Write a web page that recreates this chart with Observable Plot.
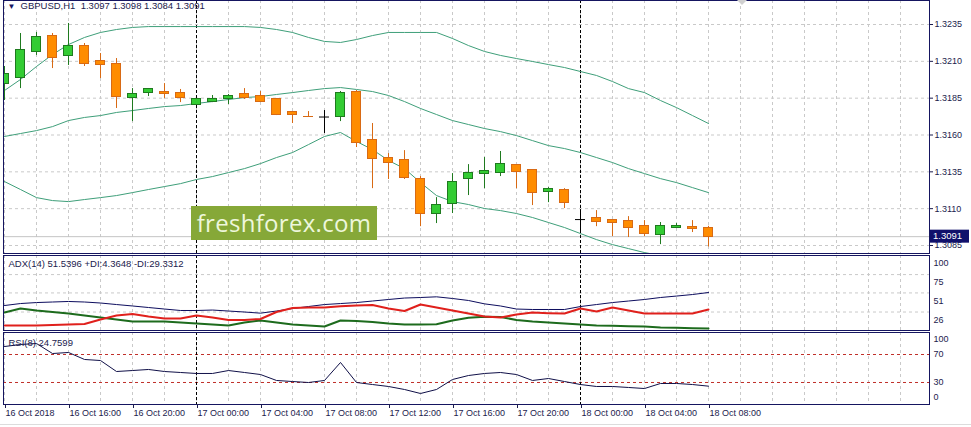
<!DOCTYPE html>
<html><head><meta charset="utf-8">
<script src="https://cdn.jsdelivr.net/npm/d3@7"></script>
<script src="https://cdn.jsdelivr.net/npm/@observablehq/plot@0.6"></script>
<style>
html,body{margin:0;padding:0;background:#fff;}
#chart{position:relative;width:971px;height:427px;overflow:hidden;background:#fff;font-family:"Liberation Sans",Arial,sans-serif;}
#chart svg{position:absolute;left:0;display:block;overflow:hidden;}
#wm{position:absolute;left:191px;top:206px;width:186px;height:34px;background:#86a838;color:#eef7dc;font-family:"Open Sans",sans-serif;font-size:24px;line-height:33px;text-align:center;letter-spacing:0.3px;}
#shift{position:absolute;left:737px;top:0;width:0;height:0;border-left:5px solid transparent;border-right:5px solid transparent;border-top:5px solid #cfcfcf;}
#bottomline{position:absolute;left:0;top:424px;width:971px;height:1px;background:#dcdcdc;}
</style></head>
<body><div id="chart"></div>
<script>
// ---------- data ----------
const symbol = "GBPUSD,H1";
const open  = [1.31949,1.31990,1.32160,1.32269,1.32133,1.32201,1.32099,1.32085,1.31854,1.31888,1.31895,1.31888,1.31807,1.31827,1.31841,1.31875,1.31868,1.31841,1.31759,1.31725,1.31722,1.31719,1.31895,1.31569,1.31447,1.31427,1.31304,1.31067,1.31135,1.31298,1.31338,1.31345,1.31399,1.31365,1.31216,1.31230,1.31026,1.31040,1.31026,1.31019,1.30985,1.30924,1.30972,1.30978,1.30970];
const high  = [1.32065,1.32289,1.32296,1.32289,1.32357,1.32221,1.32153,1.32119,1.31915,1.31915,1.31949,1.31909,1.31848,1.31868,1.31875,1.31915,1.31895,1.31841,1.31759,1.31759,1.31766,1.31895,1.31902,1.31678,1.31474,1.31494,1.31318,1.31175,1.31338,1.31399,1.31447,1.31488,1.31399,1.31365,1.31243,1.31236,1.31094,1.31087,1.31026,1.31046,1.31019,1.31006,1.30999,1.31019,1.30980];
const low   = [1.31834,1.31915,1.32140,1.32051,1.32072,1.32065,1.31983,1.31780,1.31691,1.31861,1.31848,1.31820,1.31800,1.31820,1.31807,1.31841,1.31820,1.31732,1.31678,1.31719,1.31610,1.31691,1.31515,1.31236,1.31298,1.31298,1.30978,1.30999,1.31067,1.31189,1.31236,1.31318,1.31236,1.31121,1.31141,1.31101,1.30931,1.30978,1.30911,1.30904,1.30911,1.30856,1.30965,1.30938,1.30840];
const close = [1.32011,1.32180,1.32262,1.32126,1.32207,1.32085,1.32078,1.31861,1.31875,1.31909,1.31875,1.31848,1.31841,1.31841,1.31868,1.31854,1.31827,1.31739,1.31739,1.31719,1.31722,1.31888,1.31549,1.31440,1.31413,1.31311,1.31067,1.31128,1.31284,1.31345,1.31359,1.31406,1.31352,1.31209,1.31236,1.31141,1.31026,1.31012,1.31006,1.30972,1.30931,1.30985,1.30985,1.30965,1.30910];

const bbUpper  = [1.31902,1.31977,1.32065,1.32146,1.32214,1.32262,1.32296,1.32316,1.32330,1.32336,1.32336,1.32336,1.32336,1.32336,1.32336,1.32336,1.32330,1.32316,1.32296,1.32262,1.32235,1.32228,1.32248,1.32275,1.32296,1.32296,1.32296,1.32296,1.32255,1.32207,1.32167,1.32140,1.32119,1.32099,1.32078,1.32058,1.32031,1.32004,1.31963,1.31915,1.31888,1.31834,1.31786,1.31732,1.31678];
const bbMiddle = [1.31590,1.31610,1.31630,1.31657,1.31698,1.31719,1.31732,1.31753,1.31766,1.31780,1.31793,1.31800,1.31814,1.31827,1.31841,1.31854,1.31861,1.31875,1.31888,1.31902,1.31915,1.31922,1.31909,1.31895,1.31868,1.31827,1.31780,1.31739,1.31698,1.31671,1.31644,1.31623,1.31596,1.31562,1.31528,1.31508,1.31481,1.31447,1.31413,1.31372,1.31338,1.31304,1.31277,1.31243,1.31209];
const bbLower  = [1.31284,1.31230,1.31175,1.31155,1.31148,1.31162,1.31175,1.31189,1.31209,1.31230,1.31250,1.31270,1.31298,1.31318,1.31345,1.31372,1.31406,1.31447,1.31481,1.31535,1.31590,1.31617,1.31556,1.31501,1.31427,1.31372,1.31277,1.31189,1.31148,1.31128,1.31101,1.31087,1.31067,1.31040,1.31006,1.30972,1.30931,1.30890,1.30856,1.30829,1.30802,1.30782,1.30768,1.30754,1.30741];

const adx     = [34.5,37.1,38.4,39.1,39.8,39.1,37.8,35.8,33.9,31.9,29.9,28.0,28.0,28.6,27.3,26.0,24.5,27.3,30.6,33.2,35.8,37.1,38.4,40.4,42.4,44.3,45.0,45.9,43.7,41.1,36.7,33.9,29.9,29.3,29.3,29.3,33.2,35.8,38.4,40.4,42.4,45.0,46.9,48.9,51.5396];
const plusDI  = [25.4,30.6,28.0,26.0,24.0,21.4,18.8,16.2,13.6,13.6,13.6,12.3,11.0,9.7,8.4,12.3,14.9,12.3,9.7,8.4,7.0,14.9,14.2,13.0,11.0,9.7,9.7,9.9,14.9,18.5,19.7,19.5,15.6,13.6,12.3,11.0,9.7,8.4,8.0,7.5,7.0,5.7,5.3,4.8,4.3648];
const minusDI = [8.4,8.4,8.4,9.0,9.7,10.3,16.2,21.4,23.4,20.1,17.5,17.5,21.4,18.8,15.6,15.6,16.9,26.0,31.2,31.9,31.9,33.6,34.5,35.2,30.6,27.3,35.8,31.9,28.0,24.0,20.1,18.8,22.7,25.4,24.5,24.0,30.6,26.7,31.9,28.0,24.0,24.0,24.0,24.0,29.3312];
const rsi     = [81.4,84.3,85.7,71.4,72.9,62.9,61.4,45.7,47.1,48.6,45.7,44.3,42.9,42.9,47.1,44.3,41.4,32.9,31.4,30.0,32.9,58.6,30.0,27.1,24.3,20.0,14.3,20.0,34.3,40.0,42.9,44.3,41.4,32.9,35.7,31.4,27.1,24.3,24.3,22.9,21.4,28.6,28.6,27.1,24.7599];

const priceTicks = [1.3085, 1.3110, 1.3135, 1.3160, 1.3185, 1.3210, 1.3235];
const adxTicks = [26, 51, 75, 100];
const rsiTicks = [0, 30, 70, 100];
const rsiLevels = [30, 70];
const timeTickBars = [0, 4, 8, 12, 16, 20, 24, 28, 32, 36, 40, 44];
const timeTickLabels = ["16 Oct 2018","16 Oct 16:00","16 Oct 20:00","17 Oct 00:00","17 Oct 04:00","17 Oct 08:00","17 Oct 12:00","17 Oct 16:00","17 Oct 20:00","18 Oct 00:00","18 Oct 04:00","18 Oct 08:00"];
const daySeparators = [12, 36];

// ---------- styling ----------
const textColor = "#1b1b4d";
const frameColor = "#151560";
const gridColor = "#c9c9c9";
const bullFill = "#33cc33", bullEdge = "#1f7a1f";
const bearFill = "#ff8c00", bearEdge = "#d86a14";
const bbColor = "#3f9f7a";
const BODY = 0.28125, DOJI = 0.3125;
const W = 971;
const gridBars = d3.range(0, 58, 2);

const candles = open.map((o, i) => ({i, open: o, high: high[i], low: low[i], close: close[i]}));
const bull = candles.filter(d => d.close > d.open);
const bear = candles.filter(d => d.close < d.open);
const doji = candles.filter(d => d.close === d.open);
const last = candles[candles.length - 1];
const f4 = d3.format(".4f");
const header = `${symbol}  ${f4(last.open)} ${f4(last.high)} ${f4(last.low)} ${f4(last.close)}`;

const base = {
  width: W, marginLeft: 3, marginRight: 42,
  x: {domain: [-0.0625, 57.8125], axis: null},
  style: {fontFamily: '"Liberation Sans", Arial, sans-serif', fontSize: "9px", background: "#fff", color: textColor}
};
const vgrid = () => Plot.ruleX(gridBars, {x: d => d, stroke: gridColor, strokeDasharray: "3,3"});
const seps = () => Plot.ruleX(daySeparators, {x: d => d, stroke: "#000", strokeDasharray: "3,2"});

// ---------- main price panel ----------
const main = Plot.plot({
  ...base, height: 254, marginTop: 0, marginBottom: 1,
  y: {domain: [1.307957, 1.325129], axis: null},
  marks: [
    vgrid(),
    Plot.ruleY(priceTicks, {y: d => d, stroke: gridColor, strokeDasharray: "3,3"}),
    Plot.ruleY([last.close], {y: d => d, stroke: "#c4c4c4"}),
    seps(),
    Plot.line(bbUpper, {x: (d, i) => i, y: d => d, stroke: bbColor, strokeWidth: 1, clip: true}),
    Plot.line(bbMiddle, {x: (d, i) => i, y: d => d, stroke: bbColor, strokeWidth: 1, clip: true}),
    Plot.line(bbLower, {x: (d, i) => i, y: d => d, stroke: bbColor, strokeWidth: 1, clip: true}),
    Plot.ruleX(bull, {x: "i", y1: "low", y2: "high", stroke: bullEdge, clip: true}),
    Plot.ruleX(bear, {x: "i", y1: "low", y2: "high", stroke: bearEdge, clip: true}),
    Plot.ruleX(doji, {x: "i", y1: "low", y2: "high", stroke: "#000", clip: true}),
    Plot.rect(bull, {x1: d => d.i - BODY, x2: d => d.i + BODY, y1: "open", y2: "close", fill: bullFill, stroke: bullEdge, shapeRendering: "crispEdges", clip: true}),
    Plot.rect(bear, {x1: d => d.i - BODY, x2: d => d.i + BODY, y1: "open", y2: "close", fill: bearFill, stroke: bearEdge, shapeRendering: "crispEdges", clip: true}),
    Plot.ruleY(doji, {y: "open", x1: d => d.i - DOJI, x2: d => d.i + DOJI, stroke: "#000", clip: true}),
    Plot.frame({stroke: frameColor}),
    Plot.axisY(priceTicks, {anchor: "right", tickFormat: f4, tickSize: 3, tickPadding: 2, color: textColor}),
    Plot.text(["\u25BC"], {frameAnchor: "top-left", dx: 4, dy: 3, textAnchor: "start", lineAnchor: "top", fontSize: 8, fill: frameColor}),
    Plot.text([header], {frameAnchor: "top-left", dx: 17, dy: 2, textAnchor: "start", lineAnchor: "top", fontSize: 9.5, fill: textColor})
  ]
});
main.style.top = "0px";

// bid price label box, positioned through the y scale
{
  const yb = main.scale("y").apply(last.close);
  const x0 = W - 42 + 1;
  const s = d3.select(main);
  s.append("rect").attr("x", x0).attr("y", yb - 6.5).attr("width", 39).attr("height", 13).attr("fill", "#10106b");
  s.append("text").attr("x", x0 + 3).attr("y", yb).attr("dy", "0.34em").attr("fill", "#fff")
    .attr("text-anchor", "start").attr("font-size", 9.5)
    .attr("font-family", '"Liberation Sans", Arial, sans-serif').text(f4(last.close));
}

// ---------- ADX panel ----------
const adxPlot = Plot.plot({
  ...base, height: 77, marginTop: 1, marginBottom: 1,
  y: {domain: [1.8, 100], axis: null},
  marks: [
    vgrid(),
    Plot.ruleY([26, 51, 75], {y: d => d, stroke: gridColor, strokeDasharray: "3,3"}),
    seps(),
    Plot.line(adx, {x: (d, i) => i, y: d => d, stroke: "#0d0d5e", strokeWidth: 1, clip: true}),
    Plot.line(plusDI, {x: (d, i) => i, y: d => d, stroke: "#1d6b1d", strokeWidth: 2, clip: true}),
    Plot.line(minusDI, {x: (d, i) => i, y: d => d, stroke: "#e0201c", strokeWidth: 2, clip: true}),
    Plot.frame({stroke: frameColor}),
    Plot.axisY(adxTicks, {anchor: "right", tickSize: 0, tickPadding: 4, dy: 8, color: textColor}),
    Plot.text([`ADX(14) ${adx[44].toFixed(4)} +DI:${plusDI[44].toFixed(4)} -DI:${minusDI[44].toFixed(4)}`],
      {frameAnchor: "top-left", dx: 5, dy: 8, textAnchor: "start", lineAnchor: "middle", fill: textColor, fontSize: 9.5})
  ]
});
adxPlot.style.top = "254px";

// ---------- RSI panel ----------
const rsiPlot = Plot.plot({
  ...base, height: 96, marginTop: 1, marginBottom: 23,
  y: {domain: [-1.43, 101.43], axis: null},
  marks: [
    vgrid(),
    Plot.ruleY(rsiLevels, {y: d => d, stroke: "#c0302a", strokeDasharray: "3,3"}),
    seps(),
    Plot.line(rsi, {x: (d, i) => i, y: d => d, stroke: "#101048", strokeWidth: 1, clip: true}),
    Plot.frame({stroke: frameColor}),
    Plot.axisY(rsiTicks.filter(d => d > 0 && d < 100), {anchor: "right", tickSize: 0, tickPadding: 4, color: textColor}),
    Plot.axisY([rsiTicks[3]], {anchor: "right", tickSize: 0, tickPadding: 4, dy: 6, color: textColor}),
    Plot.axisY([rsiTicks[0]], {anchor: "right", tickSize: 0, tickPadding: 4, dy: -6, color: textColor}),
    Plot.axisX(timeTickBars, {anchor: "bottom", tickSize: 4, tickPadding: 1, textAnchor: "start", dx: 1,
      tickFormat: d => timeTickLabels[timeTickBars.indexOf(d)], color: textColor, fontSize: 9}),
    Plot.text([`RSI(8) ${rsi[44].toFixed(4)}`],
      {frameAnchor: "top-left", dx: 5, dy: 10, textAnchor: "start", lineAnchor: "middle", fill: textColor, fontSize: 9.5})
  ]
});
rsiPlot.style.top = "331px";

const chart = document.getElementById("chart");
chart.append(main, adxPlot, rsiPlot);
const wm = document.createElement("div"); wm.id = "wm"; wm.textContent = "freshforex.com"; chart.append(wm);
const sh = document.createElement("div"); sh.id = "shift"; chart.append(sh);
const bl = document.createElement("div"); bl.id = "bottomline"; chart.append(bl);
</script></body></html>
